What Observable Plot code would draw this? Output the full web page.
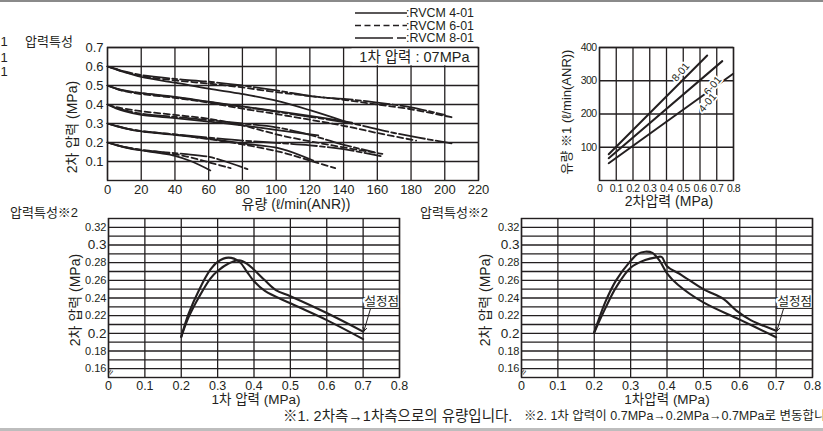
<!DOCTYPE html>
<html><head><meta charset="utf-8">
<script src="https://cdn.jsdelivr.net/npm/d3@7"></script>
<script src="https://cdn.jsdelivr.net/npm/@observablehq/plot@0.6"></script>
<style>
body{margin:0;background:#fff;overflow:hidden;}
#root{position:relative;width:823px;height:431px;overflow:hidden;font-family:"Liberation Sans","Noto Sans CJK KR",sans-serif;color:#231f20;background:#fff;}
.t{position:absolute;white-space:nowrap;line-height:1;}
</style></head><body><div id="root"></div>
<script>
// ---------- DATA ----------
// Top-left: 2nd pressure vs flow, 1st pressure 0.7MPa
const flowTicks = [0,20,40,60,80,100,120,140,160,180,200,220];
const p2Ticks = [0.1,0.2,0.3,0.4,0.5,0.6,0.7];
// [flow, pressure] pairs, RVCM 4-01 (solid)
const rv4_06 = [[0,.6],[5,.585],[10,.57],[20,.545],[40,.515],[60,.483],[80,.455],[100,.42],[120,.37],[141,.31]];
const rv4_05 = [[0,.5],[5,.484],[10,.472],[20,.46],[40,.44],[60,.415],[80,.39],[100,.365],[120,.34],[145,.305]];
const rv4_04 = [[0,.4],[5,.38],[10,.365],[20,.345],[40,.328],[60,.31],[80,.29],[103,.263],[125,.237]];
const rv4_03 = [[0,.3],[5,.286],[10,.275],[20,.258],[40,.24],[60,.22],[80,.195],[103,.167],[122,.105]];
const rv4_02 = [[0,.2],[5,.186],[10,.175],[20,.158],[30,.145],[40,.13],[50,.1],[61,.053]];
// RVCM 6-01 (dashed)
const rv6_06 = [[0,.6],[5,.586],[10,.572],[20,.55],[40,.527],[60,.51],[80,.49],[100,.465],[120,.445],[140,.425],[160,.40],[180,.375],[204,.333]];
const rv6_05 = [[0,.5],[5,.483],[10,.47],[20,.455],[40,.435],[60,.41],[80,.378],[100,.35],[120,.32],[140,.288],[160,.25],[183,.21]];
const rv6_04 = [[0,.4],[5,.387],[10,.378],[20,.365],[40,.345],[60,.325],[80,.29],[103,.237],[130,.19],[163,.14]];
const rv6_03 = [[0,.3],[5,.287],[10,.276],[20,.26],[40,.242],[60,.218],[80,.19],[103,.149],[120,.105],[135,.065]];
const rv6_02 = [[0,.2],[5,.187],[10,.176],[20,.16],[30,.15],[45,.13],[60,.096],[73,.065]];
// RVCM 8-01 (long-short dash)
const rv8_06 = [[0,.6],[5,.587],[10,.574],[20,.555],[40,.535],[60,.52],[80,.5],[100,.474],[124,.44],[140,.43],[160,.41],[180,.385],[200,.345]];
const rv8_05 = [[0,.5],[5,.485],[10,.474],[20,.46],[40,.438],[60,.413],[80,.388],[100,.362],[120,.335],[145,.3],[170,.25],[204,.195]];
const rv8_04 = [[0,.4],[5,.383],[10,.37],[20,.352],[40,.335],[60,.318],[80,.3],[100,.28],[120,.24],[138,.193],[158,.149]];
const rv8_03 = [[0,.3],[5,.288],[10,.277],[20,.26],[40,.243],[60,.226],[80,.21],[100,.198],[120,.185],[140,.165],[162,.128]];
const rv8_02 = [[0,.2],[5,.188],[10,.177],[20,.162],[30,.152],[45,.14],[60,.125],[70,.1],[83,.06]];

// Top-right: flow vs 2nd pressure
const p2xTicks = [0,0.1,0.2,0.3,0.4,0.5,0.6,0.7,0.8];
const flowYTicks = [100,200,300,400];
const fl8 = [[0.055,79],[0.643,376]];
const fl6 = [[0.055,67],[0.733,359]];
const fl4 = [[0.055,52],[0.798,321]];
const flLabels = ["8-01","6-01","4-01"];

// Bottom: 2nd pressure vs 1st pressure (hysteresis)
const p1Ticks = [0,0.1,0.2,0.3,0.4,0.5,0.6,0.7,0.8];
const p2SmallTicks = [0.16,0.18,0.22,0.24,0.26,0.28,0.32];
const p2BigTicks = [0.2,0.3];
const p2GridTicks = [0.16,0.17,0.18,0.19,0.2,0.21,0.22,0.23,0.24,0.25,0.26,0.27,0.28,0.29,0.3,0.31,0.32];
const leftA = [[.2,.196],[.22,.222],[.25,.25],[.28,.272],[.3,.281],[.33,.2857],[.36,.281],[.38,.27],[.4,.259],[.43,.248],[.5,.234],[.6,.215],[.7,.1935]];
const leftB = [[.2,.196],[.22,.218],[.25,.242],[.28,.262],[.3,.2705],[.33,.279],[.359,.2827],[.38,.279],[.4,.272],[.43,.26],[.46,.249],[.5,.242],[.6,.223],[.7,.202]];
const rightA = [[.2,.201],[.23,.235],[.26,.26],[.3,.282],[.32,.29],[.34,.2924],[.36,.291],[.38,.282],[.4,.268],[.43,.255],[.5,.235],[.6,.2155],[.7,.1956]];
const rightB = [[.2,.201],[.23,.228],[.26,.252],[.3,.2743],[.34,.283],[.37,.286],[.385,.2865],[.4,.276],[.44,.266],[.5,.25],[.555,.239],[.59,.226],[.63,.215],[.7,.203]];

// ---------- HELPERS ----------
const INK = "#231f20";
const FONT = '"Liberation Sans","Noto Sans CJK KR",sans-serif';
const root = document.getElementById("root");
function put(el, left, tp){ el.style.position="absolute"; el.style.left=left+"px"; el.style.top=tp+"px"; el.style.background="transparent"; el.style.overflow="visible"; el.style.maxWidth="none"; root.appendChild(el); return el; }
function label(text, x, y, size=14, anchor="middle"){
  const d=document.createElement("div"); d.className="t"; d.textContent=text;
  const tx = anchor==="middle"?"-50%":anchor==="end"?"-100%":"0";
  d.style.fontSize=size+"px"; d.style.left=x+"px"; d.style.top=y+"px";
  d.style.transform=`translate(${tx},-50%)`;
  root.appendChild(d); return d;
}
function rotLabel(text, cx, cy, size){
  const d=document.createElement("div"); d.className="t"; d.textContent=text;
  d.style.fontSize=size+"px"; d.style.left=cx+"px"; d.style.top=cy+"px";
  d.style.transform="translate(-50%,-50%) rotate(-90deg)";
  root.appendChild(d);
}
const rowsOf = (arrs) => arrs.flatMap((a,i)=>a.map(([x,y])=>({id:i,x,y})));
const gridStyle = {stroke:INK, strokeOpacity:1, strokeWidth:1.3};

// ---------- TOP-LEFT ----------
const lineW = 1.8;
const chart1 = Plot.plot({
  width:490, height:210, marginLeft:107, marginRight:12, marginTop:47, marginBottom:30,
  x:{domain:[0,220]}, y:{domain:[0,0.7]},
  style:{fontFamily:FONT, fontSize:"13px", color:INK, background:"transparent"},
  marks:[
    Plot.gridX(flowTicks, gridStyle),
    Plot.gridY(p2Ticks, gridStyle),
    Plot.line(rowsOf([rv4_06,rv4_05,rv4_04,rv4_03,rv4_02]), {x:"x",y:"y",z:"id",stroke:INK,strokeWidth:lineW,curve:"catmull-rom"}),
    Plot.line(rowsOf([rv6_06,rv6_05,rv6_04,rv6_03,rv6_02]), {x:"x",y:"y",z:"id",stroke:INK,strokeWidth:lineW,strokeDasharray:"6,3.5",curve:"catmull-rom"}),
    Plot.line(rowsOf([rv8_06,rv8_05,rv8_04,rv8_03,rv8_02]), {x:"x",y:"y",z:"id",stroke:INK,strokeWidth:lineW,strokeDasharray:"26,3,5,3",curve:"catmull-rom"}),
    Plot.rect([{}], {x1:145, x2:219.3, y1:0.604, y2:0.697, fill:"white"}),
    Plot.text(["1차 압력 : 07MPa"], {x:182, y:0.649, fontSize:14.5, fill:INK}),
    Plot.frame({stroke:INK, strokeWidth:1.4}),
    Plot.axisX(flowTicks, {tickSize:0, tickPadding:4, label:null, fontSize:13}),
    Plot.axisY(p2Ticks, {tickSize:0, tickPadding:4, label:null, fontSize:13, tickFormat:d=>d.toFixed(1)})
  ]
});
put(chart1, 0, 0);

// legend (top-left)
const leg = document.createElementNS("http://www.w3.org/2000/svg","svg");
leg.setAttribute("width","60"); leg.setAttribute("height","45");
leg.innerHTML = `
<line x1="0" x2="52" y1="13" y2="13" stroke="${INK}" stroke-width="1.7"/>
<line x1="0" x2="52" y1="25.5" y2="25.5" stroke="${INK}" stroke-width="1.7" stroke-dasharray="6,3.5"/>
<line x1="0" x2="52" y1="38" y2="38" stroke="${INK}" stroke-width="1.7" stroke-dasharray="38,4,9,60"/>`;
put(leg, 355, 0);
["RVCM 4-01","RVCM 6-01","RVCM 8-01"].forEach((t,i)=>label(":"+t, 406, 13+i*12.5, 12.4, "start"));

label("압력특성", 25, 41, 13, "start");
[41,57,71].forEach(y=>label("1", 0.5, y, 13, "start"));
label("유량 (ℓ/min(ANR))", 296, 203.5, 14);
rotLabel("2차 압력 (MPa)", 72, 127, 14);

// ---------- TOP-RIGHT ----------
const chart2 = Plot.plot({
  width:210, height:210, marginLeft:59, marginRight:17, marginTop:47, marginBottom:30,
  x:{domain:[0,0.8]}, y:{domain:[0,400]},
  style:{fontFamily:FONT, fontSize:"11px", color:INK, background:"transparent"},
  marks:[
    Plot.gridX(p2xTicks, gridStyle),
    Plot.gridY(flowYTicks, gridStyle),
    Plot.line(rowsOf([fl8,fl6,fl4]), {x:"x",y:"y",z:"id",stroke:INK,strokeWidth:2}),
    Plot.text(flLabels, {x:[0.484,0.675,0.645], y:[326,285,234], rotate:-50, fontSize:10.5, fill:INK, stroke:"white", strokeWidth:3.5, fontFamily:FONT}),
    Plot.frame({stroke:INK, strokeWidth:1.4}),
    Plot.axisX(p2xTicks, {tickSize:0, tickPadding:4, label:null, fontSize:10.5, tickFormat:d=>d===0?"0":d.toFixed(1), className:"cond"}),
    Plot.axisY(flowYTicks, {tickSize:0, tickPadding:3, label:null, fontSize:10.5, className:"cond"})
  ]
});
put(chart2, 540, 0);
// condensed look of the narrow tick labels
d3.select(chart2).selectAll(".cond text").style("letter-spacing","-0.6px");
rotLabel("유량 ※1 (ℓ/min(ANR))", 565.5, 112, 13);
label("2차압력 (MPa)", 669, 201, 14);

// ---------- BOTTOM ----------
function bottom(A,B,width,ml,mr){
  return Plot.plot({
    width, height:200, marginLeft:ml, marginRight:mr, marginTop:18, marginBottom:23,
    x:{domain:[0,0.8]}, y:{domain:[0.15,0.33]},
    style:{fontFamily:FONT, fontSize:"12px", color:INK, background:"transparent"},
    marks:[
      Plot.gridX(p1Ticks, gridStyle),
      Plot.gridY(p2GridTicks, gridStyle),
      Plot.line(rowsOf([A,B]), {x:"x",y:"y",z:"id",stroke:INK,strokeWidth:2.1,curve:"catmull-rom"}),
      Plot.text(["설정점"], {x:0.751, y:0.2355, fontSize:12.5, fill:INK, stroke:"white", strokeWidth:5, fontFamily:FONT}),
      Plot.ruleY([0.2282], {x1:0.7, x2:0.8, stroke:INK, strokeWidth:1}),
      Plot.arrow([{}], {x1:0.72, y1:0.2275, x2:0.702, y2:0.2025, stroke:INK, strokeWidth:1, headLength:6}),
      Plot.text(["≈"], {x:0.006, y:0.156, fontSize:10, rotate:-60, fill:INK}),
      Plot.frame({stroke:INK, strokeWidth:1.4}),
      Plot.axisX(p1Ticks, {tickSize:0, tickPadding:4, label:null, fontSize:12.5, tickFormat:d=>d===0?"0":d.toFixed(1)}),
      Plot.axisY(p2SmallTicks, {tickSize:0, tickPadding:2, label:null, fontSize:11, tickFormat:d=>d.toFixed(2)}),
      Plot.axisY(p2BigTicks, {tickSize:0, tickPadding:2, label:null, fontSize:13.5, tickFormat:d=>d.toFixed(1)})
    ]
  });
}
put(bottom(leftA,leftB,420,108,21), 0, 200);
put(bottom(rightA,rightB,413,111,11), 410, 200);

label("압력특성※2", 10, 212, 13, "start");
rotLabel("2차 압력 (MPa)", 75, 300, 14);
label("1차 압력 (MPa)", 256, 400, 13.5);
label("압력특성※2", 420, 212, 13, "start");
rotLabel("2차 압력 (MPa)", 485, 300, 14);
label("1차압력 (MPa)", 667, 400, 13.5);

// footnotes (the second one runs past the right edge, as in the reference)
label("※1. 2차측→1차측으로의 유량입니다.", 283, 416, 14.5, "start");
label("※2. 1차 압력이 0.7MPa→0.2MPa→0.7MPa로 변동합니다.", 524, 416, 12.5, "start");

// page rules
const topRule = document.createElement("div"); topRule.style.cssText="position:absolute;left:0;top:0;width:823px;height:2px;background:#8a8a8a;"; root.appendChild(topRule);
const botRule = document.createElement("div"); botRule.style.cssText="position:absolute;left:0;top:428px;width:823px;height:3px;background:#bdbdbd;"; root.appendChild(botRule);
</script></body></html>
